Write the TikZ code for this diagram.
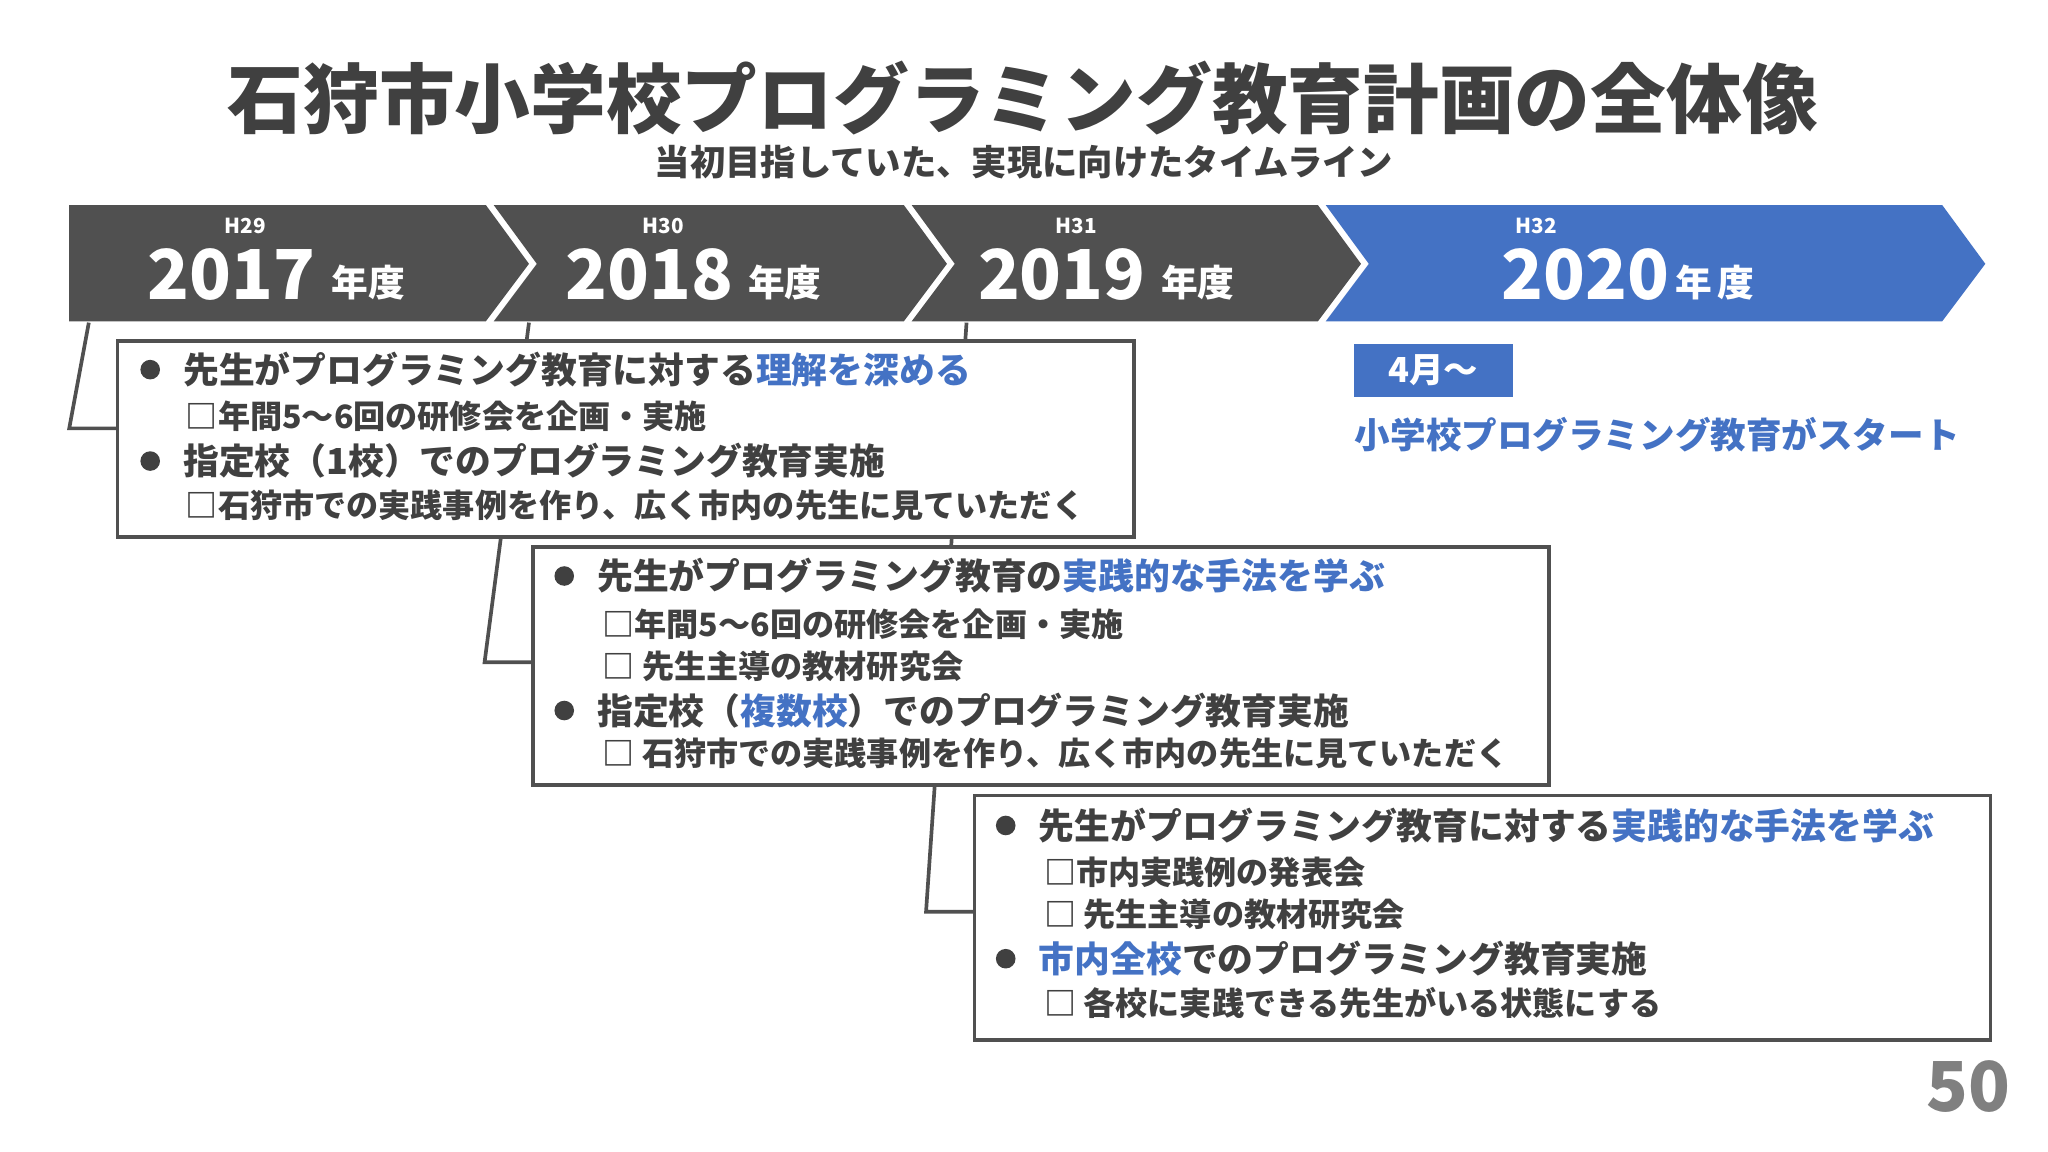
\documentclass[tikz,border=0pt]{standalone}
\usepackage{fontspec}
\setmainfont{Noto Sans CJK JP}
\definecolor{dg}{HTML}{505050}
\definecolor{bl}{HTML}{4472C4}
\definecolor{tg}{HTML}{404040}
\newcommand{\hl}[1]{\textcolor{bl}{#1}}
\begin{document}
\begin{tikzpicture}[x=0.02cm,y=-0.02cm,
  main/.style={anchor=west,inner sep=0,font=\fontsize{15.6}{18}\selectfont\bfseries,text=tg},
  sub/.style={anchor=west,inner sep=0,font=\fontsize{14}{16}\selectfont\bfseries,text=tg},
  dot/.style={circle,fill=tg,minimum size=0.3cm,inner sep=0},
  tbox/.style={draw=dg,fill=white,line width=1.6pt},
  conn/.style={draw=dg,line width=1.6pt},
  yr/.style={inner sep=0,text=white,font=\fontsize{30}{32}\selectfont\bfseries},
  nd/.style={inner sep=0,text=white,font=\fontsize{16}{18}\selectfont\bfseries},
  hh/.style={inner sep=0,text=white,font=\fontsize{9}{10}\selectfont\bfseries}]
\useasboundingbox (0,0) rectangle (1568,882);
\node[text=tg,font=\fontsize{33}{36}\selectfont\bfseries] (title) at (783,75) {石狩市小学校プログラミング教育計画の全体像};
\node[text=tg,font=\fontsize{15.4}{17}\selectfont\bfseries] (subt) at (784,124) {当初目指していた、実現に向けたタイムライン};
% chevrons
\fill[dg] (53,157) -- (372,157) -- (405,202) -- (372,246) -- (53,246) -- cycle;
\fill[dg] (378,157) -- (692,157) -- (725,202) -- (692,246) -- (378,246) -- (411,202) -- cycle;
\fill[dg] (698,157) -- (1009,157) -- (1042,202) -- (1009,246) -- (698,246) -- (731,202) -- cycle;
\fill[bl] (1015,157) -- (1487,157) -- (1520,202) -- (1487,246) -- (1015,246) -- (1048,202) -- cycle;
\node[hh] (h1) at (188,173) {H29};
\node[hh] (h2) at (508,173) {H30};
\node[hh] (h3) at (824,173) {H31};
\node[hh] (h4) at (1176,173) {H32};
\node[yr] (y1) at (177,210) {2017};
\node[nd] (n1) at (282,216) {年度};
\node[yr] (y2) at (497,210) {2018};
\node[nd] (n2) at (601,216) {年度};
\node[yr] (y3) at (813,210) {2019};
\node[nd] (n3) at (917,216) {年度};
\node[yr] (y4) at (1214,210) {2020};
\node[nd] (n4) at (1313,216) {年\,度};
% connectors (behind boxes)
\coordinate (c1a) at (68,247); \coordinate (c1b) at (53,328); \coordinate (c1c) at (90,328);
\coordinate (c2a) at (405,247); \coordinate (c2b) at (371,507); \coordinate (c2c) at (408,507);
\coordinate (c3a) at (740,247); \coordinate (c3b) at (709,698); \coordinate (c3c) at (746,698);
\draw[conn] (c1a) -- (c1b) -- (c1c);
\draw[conn] (c2a) -- (c2b) -- (c2c);
\draw[conn] (c3a) -- (c3b) -- (c3c);
% boxes
\draw[tbox] (746,609) rectangle (1524,796);
\draw[tbox] (408,419) rectangle (1186,601);
\draw[tbox] (90,261) rectangle (868,411);
% box1
\node[dot] (d11) at (115,283) {};
\node[main] (t11) at (140,283) {先生がプログラミング教育に対する\hl{理解を深める}};
\node[sub] (t12) at (142,319) {□年間5〜6回の研修会を企画・実施};
\node[dot] (d12) at (115,353) {};
\node[main] (t13) at (140,353) {指定校（1校）でのプログラミング教育実施};
\node[sub] (t14) at (142,387) {□石狩市での実践事例を作り、広く市内の先生に見ていただく};
% box2
\node[dot] (d21) at (432,441) {};
\node[main] (t21) at (457,441) {先生がプログラミング教育の\hl{実践的な手法を学ぶ}};
\node[sub] (t22) at (461,478) {□年間5〜6回の研修会を企画・実施};
\node[sub] (t23) at (461,510) {□ 先生主導の教材研究会};
\node[dot] (d22) at (432,544) {};
\node[main] (t24) at (457,544) {指定校（\hl{複数校}）でのプログラミング教育実施};
\node[sub] (t25) at (461,577) {□ 石狩市での実践事例を作り、広く市内の先生に見ていただく};
% box3
\node[dot] (d31) at (770,632) {};
\node[main] (t31) at (795,632) {先生がプログラミング教育に対する\hl{実践的な手法を学ぶ}};
\node[sub] (t32) at (799,668) {□市内実践例の発表会};
\node[sub] (t33) at (799,700) {□ 先生主導の教材研究会};
\node[dot] (d32) at (770,734) {};
\node[main] (t34) at (795,734) {\hl{市内全校}でのプログラミング教育実施};
\node[sub] (t35) at (799,768) {□ 各校に実践できる先生がいる状態にする};
% right
\node[fill=bl,minimum width=121*0.02cm,minimum height=41*0.02cm,inner sep=0,text=white,font=\fontsize{15}{17}\selectfont\bfseries] (apr) at (1097.5,283.5) {4月〜};
\node[anchor=west,inner sep=0,text=bl,font=\fontsize{15.5}{17}\selectfont\bfseries] (start) at (1037,333) {小学校プログラミング教育がスタート};
\node[text=gray,font=\fontsize{30}{32}\selectfont\bfseries] (pg) at (1507,832) {50};
\end{tikzpicture}
\end{document}
